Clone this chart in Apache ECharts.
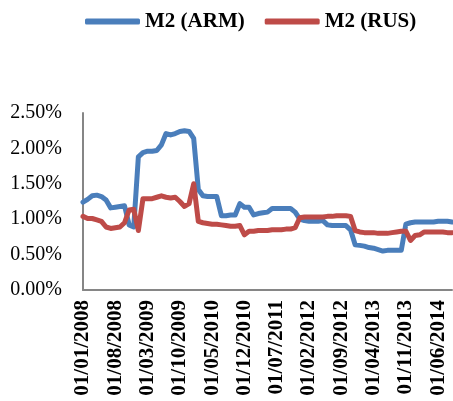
<!DOCTYPE html>
<html>
<head>
<meta charset="utf-8">
<script src="https://cdn.jsdelivr.net/npm/echarts@6/dist/echarts.min.js"></script>
<style>
    html, body { margin: 0; padding: 0; background: #fff; }
    #main { width: 453px; height: 401px; }
</style>
</head>
<body>
<div id="main"></div>
<script>
// monthly dates, 01/01/2008 .. 01/09/2014
var categories = [
    '01/01/2008', '01/02/2008', '01/03/2008', '01/04/2008', '01/05/2008', '01/06/2008', '01/07/2008', '01/08/2008', '01/09/2008', '01/10/2008', '01/11/2008', '01/12/2008',
    '01/01/2009', '01/02/2009', '01/03/2009', '01/04/2009', '01/05/2009', '01/06/2009', '01/07/2009', '01/08/2009', '01/09/2009', '01/10/2009', '01/11/2009', '01/12/2009',
    '01/01/2010', '01/02/2010', '01/03/2010', '01/04/2010', '01/05/2010', '01/06/2010', '01/07/2010', '01/08/2010', '01/09/2010', '01/10/2010', '01/11/2010', '01/12/2010',
    '01/01/2011', '01/02/2011', '01/03/2011', '01/04/2011', '01/05/2011', '01/06/2011', '01/07/2011', '01/08/2011', '01/09/2011', '01/10/2011', '01/11/2011', '01/12/2011',
    '01/01/2012', '01/02/2012', '01/03/2012', '01/04/2012', '01/05/2012', '01/06/2012', '01/07/2012', '01/08/2012', '01/09/2012', '01/10/2012', '01/11/2012', '01/12/2012',
    '01/01/2013', '01/02/2013', '01/03/2013', '01/04/2013', '01/05/2013', '01/06/2013', '01/07/2013', '01/08/2013', '01/09/2013', '01/10/2013', '01/11/2013', '01/12/2013',
    '01/01/2014', '01/02/2014', '01/03/2014', '01/04/2014', '01/05/2014', '01/06/2014', '01/07/2014', '01/08/2014', '01/09/2014'
];

// M2 growth, percent
var armValues = [
    1.24, 1.28, 1.33, 1.34, 1.32, 1.27, 1.16, 1.17, 1.18, 1.19, 0.92, 0.89,
    1.88, 1.94, 1.96, 1.96, 1.97, 2.05, 2.21, 2.19, 2.21, 2.24, 2.25, 2.24,
    2.14, 1.42, 1.33, 1.32, 1.32, 1.32, 1.05, 1.05, 1.06, 1.06, 1.22, 1.17,
    1.17, 1.06, 1.08, 1.09, 1.10, 1.15, 1.15, 1.15, 1.15, 1.15, 1.10, 1.00,
    0.98, 0.97, 0.97, 0.97, 0.98, 0.92, 0.91, 0.91, 0.91, 0.91, 0.85, 0.64,
    0.63, 0.62, 0.60, 0.59, 0.57, 0.55, 0.56, 0.56, 0.56, 0.56, 0.93, 0.95,
    0.96, 0.96, 0.96, 0.96, 0.96, 0.97, 0.97, 0.97, 0.96
];
var rusValues = [
    1.04, 1.01, 1.01, 0.99, 0.97, 0.89, 0.87, 0.88, 0.89, 0.95, 1.13, 1.14,
    0.84, 1.29, 1.29, 1.29, 1.31, 1.33, 1.31, 1.30, 1.31, 1.25, 1.18, 1.22,
    1.50, 0.97, 0.95, 0.94, 0.93, 0.93, 0.92, 0.91, 0.90, 0.90, 0.91, 0.78,
    0.83, 0.83, 0.84, 0.84, 0.84, 0.85, 0.85, 0.85, 0.86, 0.86, 0.88, 1.02,
    1.03, 1.03, 1.03, 1.03, 1.03, 1.04, 1.04, 1.05, 1.05, 1.05, 1.04, 0.84,
    0.82, 0.81, 0.81, 0.81, 0.80, 0.80, 0.80, 0.81, 0.82, 0.83, 0.83, 0.70,
    0.77, 0.78, 0.82, 0.82, 0.82, 0.82, 0.82, 0.81, 0.81
];

var yTicks = [0, 0.5, 1, 1.5, 2, 2.5];

var serif = '"Liberation Serif", "Times New Roman", serif';
var axisGray = '#868686';

var myChart = echarts.init(document.getElementById('main'));
myChart.setOption({
    animation: false,
    legend: {
        left: 80,
        top: 6,
        icon: 'roundRect',
        itemWidth: 55,
        itemHeight: 6,
        itemGap: 20,
        textStyle: { fontFamily: serif, fontWeight: 'bold', fontSize: 21, color: '#000' },
        data: ['M2 (ARM)', 'M2 (RUS)']
    },
    grid: { left: 83, top: 113, right: 1, bottom: 111, containLabel: false },
    xAxis: {
        type: 'category',
        boundaryGap: false,
        data: categories,
        axisLine: { lineStyle: { color: axisGray, width: 2 } },
        axisTick: { show: false },
        axisLabel: {
            interval: 6,
            rotate: 90,
            margin: 10,
            fontFamily: serif,
            fontWeight: 'bold',
            fontSize: 21,
            color: '#000'
        },
        splitLine: { show: false }
    },
    yAxis: {
        type: 'value',
        min: yTicks[0],
        max: yTicks[yTicks.length - 1],
        interval: 0.5,
        axisLine: { show: true, lineStyle: { color: axisGray, width: 2 } },
        axisTick: { show: false },
        splitLine: { show: false },
        axisLabel: {
            margin: 21,
            fontFamily: serif,
            fontSize: 20,
            color: '#000',
            formatter: function (v) { return v.toFixed(2) + '%'; }
        }
    },
    series: [
        {
            name: 'M2 (ARM)',
            type: 'line',
            data: armValues,
            symbol: 'none',
            itemStyle: { color: '#4A7EBB' },
            lineStyle: { color: '#4A7EBB', width: 5, join: 'round', cap: 'round' }
        },
        {
            name: 'M2 (RUS)',
            type: 'line',
            data: rusValues,
            symbol: 'none',
            itemStyle: { color: '#BE4B48' },
            lineStyle: { color: '#BE4B48', width: 5, join: 'round', cap: 'round' }
        }
    ]
});
</script>
</body>
</html>
